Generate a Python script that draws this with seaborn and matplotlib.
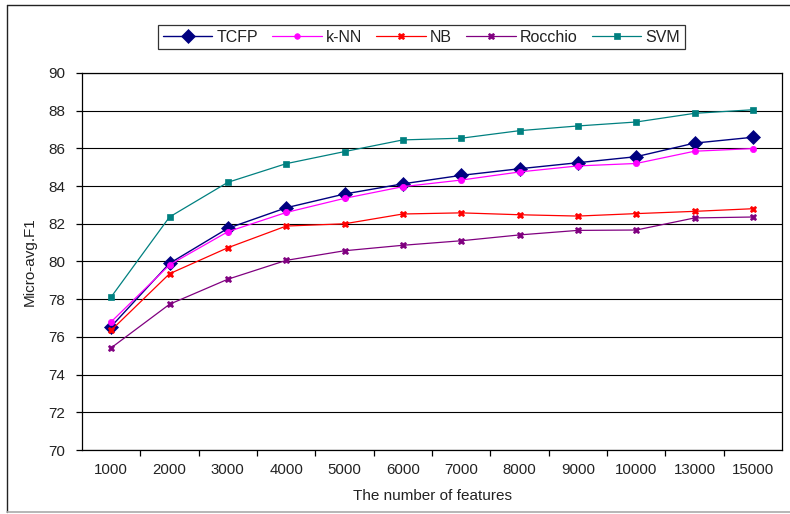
import matplotlib
matplotlib.use("Agg")
import matplotlib.pyplot as plt
import seaborn as sns
from matplotlib.lines import Line2D

# Feature counts (categorical x axis)
features = ["1000", "2000", "3000", "4000", "5000", "6000",
            "7000", "8000", "9000", "10000", "13000", "15000"]

# Micro-averaged F1 per classifier
tcfp = [76.55, 79.90, 81.76, 82.85, 83.58, 84.12, 84.57, 84.92, 85.24, 85.56, 86.28, 86.59]
knn = [76.80, 79.82, 81.58, 82.60, 83.35, 83.97, 84.32, 84.75, 85.07, 85.20, 85.85, 85.99]
nb = [76.35, 79.35, 80.73, 81.88, 82.00, 82.52, 82.58, 82.48, 82.41, 82.54, 82.66, 82.80]
rocchio = [75.42, 77.73, 79.06, 80.06, 80.57, 80.86, 81.10, 81.41, 81.65, 81.67, 82.31, 82.36]
svm = [78.12, 82.36, 84.20, 85.19, 85.83, 86.45, 86.54, 86.94, 87.19, 87.40, 87.86, 88.05]

series = [
    ("TCFP", tcfp, "#000080", "D", 7.5, 1.0),
    ("k-NN", knn, "#FF00FF", "o", 4.5, 0.9),
    ("NB", nb, "#FF0000", "X", 5.0, 0.9),
    ("Rocchio", rocchio, "#800080", "X", 5.0, 0.9),
    ("SVM", svm, "#008080", "s", 4.3, 0.9),
]

sns.set_style("white")
plt.rcParams["font.family"] = ["Liberation Sans", "DejaVu Sans"]

fig = plt.figure(figsize=(7.9, 5.14), dpi=100)
ax = fig.add_axes([0.1038, 0.1245, 0.8861, 0.7335])

# Outer chart frame
fig.add_artist(Line2D([0.0089, 0.0089], [0.004, 0.990], transform=fig.transFigure,
                      color="#222222", lw=1.0))
fig.add_artist(Line2D([0.0089, 1.0], [0.990, 0.990], transform=fig.transFigure,
                      color="#222222", lw=1.0))
fig.add_artist(Line2D([0.0089, 1.0], [0.004, 0.004], transform=fig.transFigure,
                      color="#aaaaaa", lw=1.2))

handles = []
for name, vals, color, marker, ms, lw in series:
    sns.pointplot(x=features, y=vals, color=color, marker=marker,
                  markersize=ms, linewidth=lw, errorbar=None, ax=ax,
                  markeredgewidth=0.5)
    handles.append(Line2D([], [], color=color, marker=marker, markersize=ms * 0.9,
                          lw=lw, markeredgewidth=0.5, label=name))

ax.set_ylim(70, 90)
ax.set_yticks(range(70, 91, 2))
ax.set_xlim(-0.5, len(features) - 0.5)

# Horizontal gridlines only
ax.yaxis.grid(True, color="black", lw=0.8)
ax.xaxis.grid(False)
ax.set_axisbelow(True)

for sp in ax.spines.values():
    sp.set_visible(True)
    sp.set_color("black")
    sp.set_linewidth(0.9)

# Category ticks sit between categories, labels centred on categories
ax.set_xticks(range(len(features)))
ax.set_xticklabels(features)
ax.set_xticks([i + 0.5 for i in range(len(features) - 1)], minor=True)
ax.tick_params(axis="x", which="major", length=0, pad=9, labelsize=10.8)
ax.tick_params(axis="x", which="minor", length=4, width=0.9, direction="out",
               color="black", bottom=True)
ax.tick_params(axis="y", which="major", length=4, width=0.9, direction="out",
               pad=8, labelsize=11, left=True)
ax.tick_params(axis="both", colors="black", which="both", labelcolor="#222222")

ax.set_xlabel("The number of features", fontsize=11, labelpad=9, color="#222222")
ax.set_ylabel("Micro-avg.F1", fontsize=11, labelpad=8, color="#222222")

leg = fig.legend(handles=handles, loc="center", bbox_to_anchor=(0.5335, 0.928),
                 ncol=5, frameon=True, fancybox=False, edgecolor="black",
                 fontsize=11.5, handlelength=3.1, handletextpad=0.25,
                 columnspacing=0.9, borderpad=0.3, borderaxespad=0)
leg.get_frame().set_linewidth(0.9)
for t in leg.get_texts():
    t.set_color("#222222")

fig.savefig("out.png", dpi=100)
